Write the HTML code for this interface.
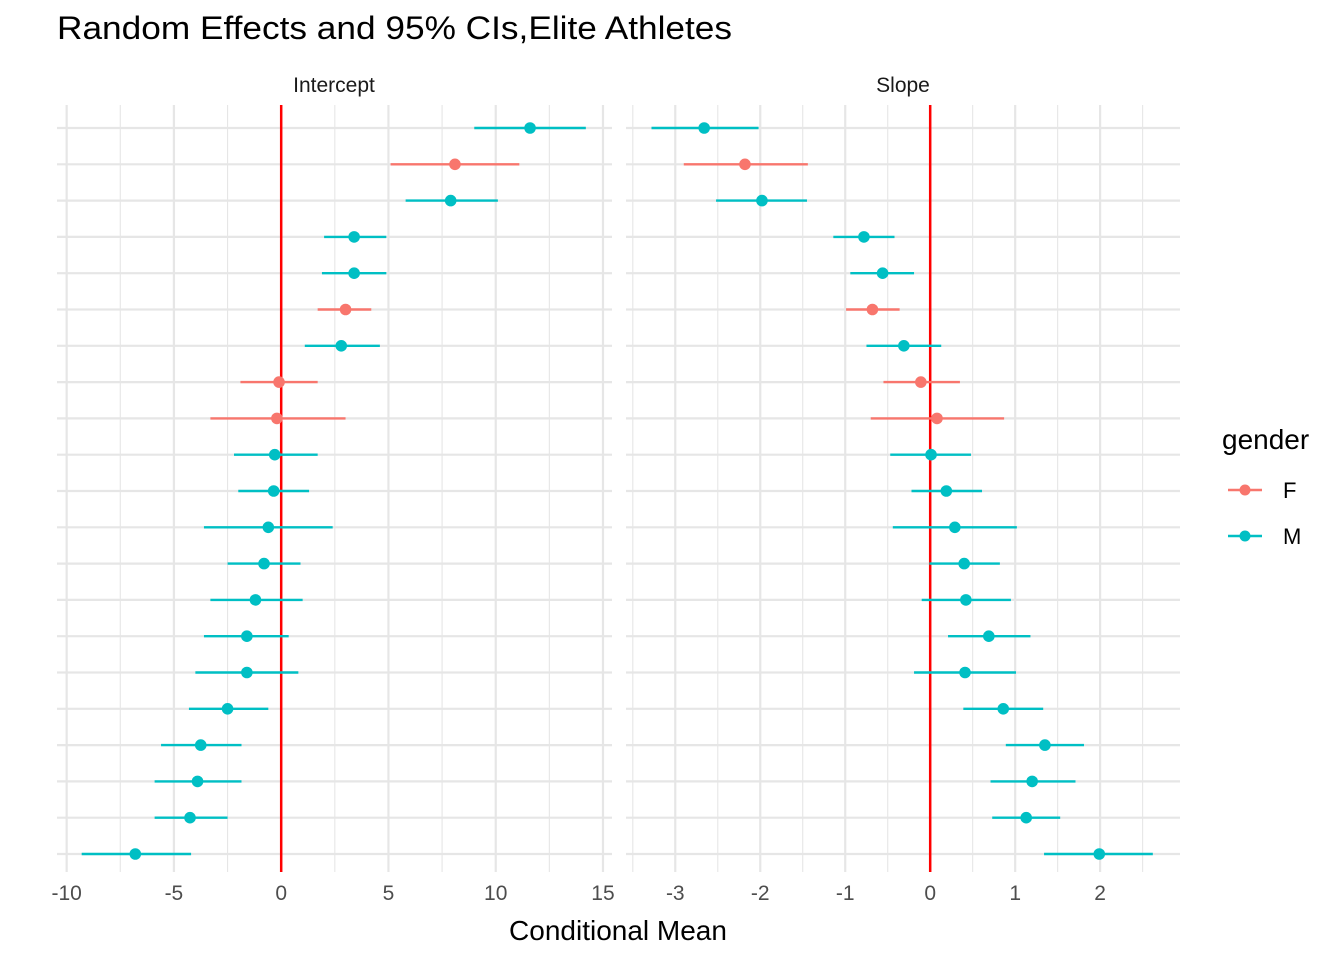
<!DOCTYPE html>
<html><head><meta charset="utf-8">
<style>
body{margin:0;background:#fff;font-family:"Liberation Sans",Arial,sans-serif;}
svg text{font-family:"Liberation Sans",Arial,sans-serif;}
</style></head>
<body>
<svg id="chart" width="1344" height="960" xmlns="http://www.w3.org/2000/svg">
<text x="57" y="39" font-size="32" textLength="675" lengthAdjust="spacingAndGlyphs" fill="#000">Random Effects and 95% CIs,Elite Athletes</text>
<text x="334" y="92" font-size="21" text-anchor="middle" fill="#1a1a1a">Intercept</text>
<text x="903" y="92" font-size="21" text-anchor="middle" fill="#1a1a1a">Slope</text>
<text x="618" y="940" font-size="28" text-anchor="middle" fill="#000">Conditional Mean</text>
<g>
<text x="1222" y="449" font-size="28" fill="#000">gender</text>
<line x1="1228" y1="490" x2="1262" y2="490" stroke="#F8766D" stroke-width="2.5"/><circle cx="1245" cy="490" r="5.5" fill="#F8766D"/>
<text x="1283" y="498" font-size="22">F</text>
<line x1="1228" y1="536" x2="1262" y2="536" stroke="#00BFC4" stroke-width="2.5"/><circle cx="1245" cy="536" r="5.5" fill="#00BFC4"/>
<text x="1283" y="544" font-size="22">M</text>
</g>
<g id="panels"></g>
</svg>
<script>
const gender = ["M","F","M","M","M","F","M","F","F","M","M","M","M","M","M","M","M","M","M","M","M"];
const interceptMean = [11.6,8.1,7.9,3.4,3.4,3.0,2.8,-0.1,-0.2,-0.3,-0.35,-0.6,-0.8,-1.2,-1.6,-1.6,-2.5,-3.75,-3.9,-4.25,-6.8];
const interceptLo = [9.0,5.1,5.8,2.0,1.9,1.7,1.1,-1.9,-3.3,-2.2,-2.0,-3.6,-2.5,-3.3,-3.6,-4.0,-4.3,-5.6,-5.9,-5.9,-9.3];
const interceptHi = [14.2,11.1,10.1,4.9,4.9,4.2,4.6,1.7,3.0,1.7,1.3,2.4,0.9,1.0,0.35,0.8,-0.6,-1.85,-1.85,-2.5,-4.2];
const slopeMean = [-2.66,-2.18,-1.98,-0.78,-0.56,-0.68,-0.31,-0.11,0.08,0.01,0.19,0.29,0.4,0.42,0.69,0.41,0.86,1.35,1.2,1.13,1.99];
const slopeLo = [-3.28,-2.9,-2.52,-1.14,-0.94,-0.99,-0.75,-0.55,-0.7,-0.47,-0.22,-0.44,-0.01,-0.1,0.21,-0.19,0.39,0.89,0.71,0.73,1.34];
const slopeHi = [-2.02,-1.44,-1.45,-0.42,-0.19,-0.36,0.13,0.35,0.87,0.48,0.61,1.02,0.82,0.95,1.18,1.01,1.33,1.81,1.71,1.53,2.62];
const interceptTicks = [-10,-5,0,5,10,15];
const slopeTicks = [-3,-2,-1,0,1,2];
const colors = {F:"#F8766D", M:"#00BFC4"};
const NS="http://www.w3.org/2000/svg";
const g=document.getElementById("panels");
function mk(tag,attrs){const e=document.createElementNS(NS,tag);for(const k in attrs)e.setAttribute(k,attrs[k]);g.appendChild(e);return e;}
const yTop=128, yStep=(854-128)/20;
function yPos(i){return yTop+i*yStep;}
function panel(name,x0,x1,dmin,dmax,ticks,minorStep,mean,lo,hi){
  const sx=v=>x0+(v-dmin)/(dmax-dmin)*(x1-x0);
  for(let v=Math.ceil(dmin/minorStep)*minorStep; v<=dmax; v+=minorStep){
    const isMajor=ticks.some(t=>Math.abs(t-v)<1e-9);
    const l=mk("line",{x1:sx(v),x2:sx(v),y1:105,y2:872,stroke:"#e6e6e6","stroke-width":isMajor?2.2:1.1});
    
    
  }
  for(let i=0;i<mean.length;i++){
    const l=mk("line",{x1:x0,x2:x1,y1:yPos(i),y2:yPos(i),stroke:"#e6e6e6","stroke-width":2.2});
    
    
  }
  ticks.forEach(t=>{
    const tx=mk("text",{x:sx(t),y:900,"font-size":21,"text-anchor":"middle",fill:"#4d4d4d"});
    tx.textContent=t;
    
    
  });
  const z=mk("line",{x1:sx(0),x2:sx(0),y1:105,y2:872,stroke:"#ff0000","stroke-width":2.5});
  
  
  for(let i=0;i<mean.length;i++){
    const c=colors[gender[i]];
    const l=mk("line",{x1:sx(lo[i]),x2:sx(hi[i]),y1:yPos(i),y2:yPos(i),stroke:c,"stroke-width":2.4});
    
    
    const p=mk("circle",{cx:sx(mean[i]),cy:yPos(i),r:5.8,fill:c});
    
    
  }
}
panel("intercept",57,612,-10.45,15.42,interceptTicks,2.5,interceptMean,interceptLo,interceptHi);
panel("slope",626,1180,-3.58,2.94,slopeTicks,0.5,slopeMean,slopeLo,slopeHi);
</script>
</body></html>
